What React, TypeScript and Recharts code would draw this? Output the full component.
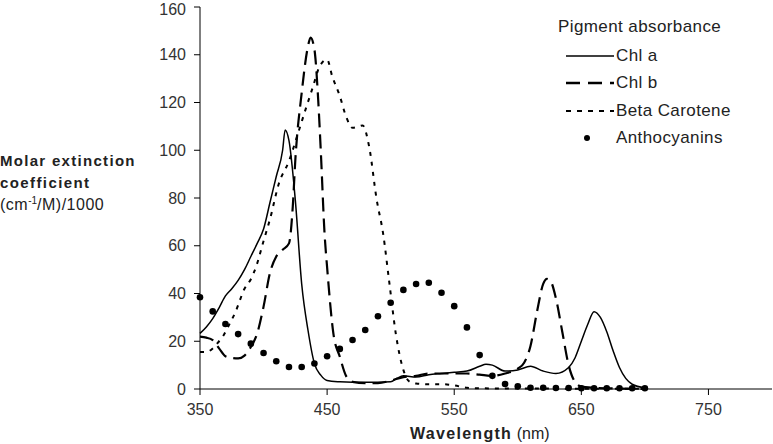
import { ComposedChart, Line, Scatter, XAxis, YAxis, Label } from 'recharts';

// wavelengths (nm) and molar extinction coefficients ((cm-1/M)/1000)
const chlANm = [350, 355, 360, 365, 370, 375, 380, 385, 390, 395, 400, 405, 410, 415, 417, 420, 425, 430, 435, 440, 445, 450, 460, 470, 480, 490, 500, 505, 510, 520, 530, 540, 550, 560, 570, 575, 580, 590, 600, 610, 620, 630, 640, 645, 650, 655, 660, 665, 670, 675, 680, 690, 700];
const chlAValues = [23.3, 26, 29.5, 34, 39, 42, 45.5, 50, 55.5, 61, 67, 78, 89, 100, 108.5, 104, 79, 44, 24.5, 10.7, 5.8, 3.6, 3, 2.8, 2.8, 2.8, 3, 4.5, 5.5, 5, 6, 6.5, 7, 7.5, 9.5, 10.4, 10, 7.5, 8, 9.5, 7.5, 6.5, 9, 13, 20, 27, 32.4, 30, 24, 16, 9, 2, 0.5];

const chlBNm = [350, 355, 360, 365, 370, 375, 380, 385, 390, 395, 400, 405, 410, 415, 420, 423, 425, 430, 435, 437, 440, 443, 445, 448, 450, 455, 460, 465, 470, 480, 490, 500, 510, 520, 530, 540, 550, 560, 570, 580, 590, 600, 605, 610, 615, 620, 623, 626, 630, 635, 640, 645, 650, 660, 670, 680, 690, 700];
const chlBValues = [21.9, 21.5, 20.5, 17, 13.7, 13, 12.8, 14, 17.6, 23.3, 34.5, 48.5, 55.5, 58.3, 61, 76.5, 96, 124, 143.7, 147.2, 142.3, 121, 100, 65, 51, 23, 13.5, 5.4, 3, 2.5, 2.5, 3.5, 5, 5.5, 6.5, 6.5, 6.5, 6.5, 6, 5.5, 6.5, 8.5, 11, 18, 32, 44, 46.1, 45, 38, 24, 10, 3, 1, 0.5, 0.3, 0.2, 0.1, 0];

const betaNm = [350, 355, 360, 365, 368, 372, 378, 385, 390, 394, 400, 405, 412, 420, 428, 433, 439, 444, 450, 454, 460, 465, 470, 475, 478, 483, 489, 494, 499, 504, 510, 515, 520, 530, 540, 550, 560, 570, 600, 700];
const betaValues = [15.5, 15.5, 17, 20, 22, 26, 32.4, 42, 46, 51, 62, 71, 86, 95.5, 108.6, 117, 126.8, 135, 138, 131, 122.7, 114, 109.4, 110, 110.4, 101.7, 79.3, 65.3, 44.3, 23.3, 8, 3, 2.3, 2, 2, 1.5, 0.5, 0.3, 0.2, 0.1];

const anthoNm = [350, 360, 370, 380, 390, 400, 410, 420, 430, 440, 450, 460, 470, 480, 490, 500, 510, 520, 530, 540, 550, 560, 570, 580, 590, 600, 610, 620, 630, 640, 650, 660, 670, 680, 690, 700];
const anthoValues = [38.4, 32.5, 27.2, 23, 19, 15.1, 11.6, 9.2, 9.2, 10.7, 13.7, 16.8, 20.5, 24.7, 30.5, 36.1, 41.5, 44, 44.5, 40.3, 34.7, 25.8, 14.2, 5.5, 2.1, 1.1, 0.5, 0.5, 0.4, 0.4, 0.3, 0.3, 0.3, 0.3, 0.3, 0.3];

const xTicks = [350, 450, 550, 650, 750];
const yTicks = [0, 20, 40, 60, 80, 100, 120, 140, 160];

const toRows = (nm: number[], vals: number[]) => nm.map((x, i) => ({ nm: x, v: vals[i] }));
const chlA = toRows(chlANm, chlAValues);
const chlB = toRows(chlBNm, chlBValues);
const beta = toRows(betaNm, betaValues);
const antho = toRows(anthoNm, anthoValues);

const FONT = '"Liberation Sans", Arial, sans-serif';
const tick = { fill: '#333', fontSize: 16, fontFamily: FONT };

function YTitle() {
  return (
    <text fontFamily={FONT} fill="#222">
      <tspan x={0} y={166} fontSize={15} fontWeight="bold" letterSpacing={1.3}>Molar extinction</tspan>
      <tspan x={0} y={188} fontSize={15} fontWeight="bold" letterSpacing={1.4}>coefficient</tspan>
      <tspan x={0} y={210} fontSize={16} letterSpacing={0.5}>(cm</tspan>
      <tspan fontSize={10} dy={-6}>-1</tspan>
      <tspan fontSize={16} dy={6} letterSpacing={0.5}>/M)/1000</tspan>
    </text>
  );
}

function PigmentLegend() {
  const row = { display: 'flex', alignItems: 'center', height: 27.5 };
  return (
    <div style={{ position: 'absolute', left: 566, top: 17, fontFamily: FONT, fontSize: 17, letterSpacing: 0.4, color: '#222' }}>
      <div style={{ marginLeft: -8, marginBottom: 5, lineHeight: '20px' }}>Pigment absorbance</div>
      <div style={row}>
        <svg width={50} height={10}><line x1={0} y1={5} x2={48} y2={5} stroke="#000" strokeWidth={1.5} /></svg>
        <span>Chl a</span>
      </div>
      <div style={row}>
        <svg width={50} height={10}><line x1={0} y1={5} x2={48} y2={5} stroke="#000" strokeWidth={2.5} strokeDasharray="14 8" /></svg>
        <span>Chl b</span>
      </div>
      <div style={row}>
        <svg width={50} height={10}><line x1={0} y1={5} x2={48} y2={5} stroke="#000" strokeWidth={2} strokeDasharray="5 6" /></svg>
        <span>Beta Carotene</span>
      </div>
      <div style={row}>
        <svg width={50} height={10}><circle cx={21} cy={5} r={3} fill="#000" /></svg>
        <span>Anthocyanins</span>
      </div>
    </div>
  );
}

export default function App() {
  return (
    <div style={{ position: 'absolute', left: 0, top: 0, width: 773, height: 444, background: '#fff' }}>
      <ComposedChart width={773} height={444} margin={{ top: 7, right: 1, bottom: 25, left: 0 }}>
        <XAxis
          type="number"
          dataKey="nm"
          domain={[350, 800]}
          ticks={xTicks}
          height={30}
          tick={tick}
          tickLine={{ stroke: '#000' }}
          axisLine={{ stroke: '#000' }}
          tickSize={6}
          tickMargin={9}
          allowDuplicatedCategory={false}
        >
          <Label
            position="bottom"
            content={() => (
              <text x={410} y={439} fontFamily={FONT} fontSize={16} fill="#222">
                <tspan fontWeight="bold" letterSpacing={1.3}>Wavelength</tspan>
                <tspan> (nm)</tspan>
              </text>
            )}
          />
        </XAxis>
        <YAxis
          type="number"
          domain={[0, 160]}
          ticks={yTicks}
          width={200}
          tick={tick}
          tickLine={{ stroke: '#000' }}
          axisLine={{ stroke: '#000' }}
          tickSize={6}
          tickMargin={8}
        >
          <Label content={() => <YTitle />} />
        </YAxis>
        <Line data={chlA} dataKey="v" name="Chl a" type="monotone" stroke="#000" strokeWidth={1.5} dot={false} isAnimationActive={false} />
        <Line data={chlB} dataKey="v" name="Chl b" type="monotone" stroke="#000" strokeWidth={2.2} strokeDasharray="14 7" dot={false} isAnimationActive={false} />
        <Line data={beta} dataKey="v" name="Beta Carotene" type="monotone" stroke="#000" strokeWidth={2} strokeDasharray="4 6" dot={false} isAnimationActive={false} />
        <Scatter data={antho} dataKey="v" name="Anthocyanins" fill="#000" shape={(p: any) => <circle cx={p.cx} cy={p.cy} r={3.3} fill="#000" />} isAnimationActive={false} />
      </ComposedChart>
      <PigmentLegend />
    </div>
  );
}
